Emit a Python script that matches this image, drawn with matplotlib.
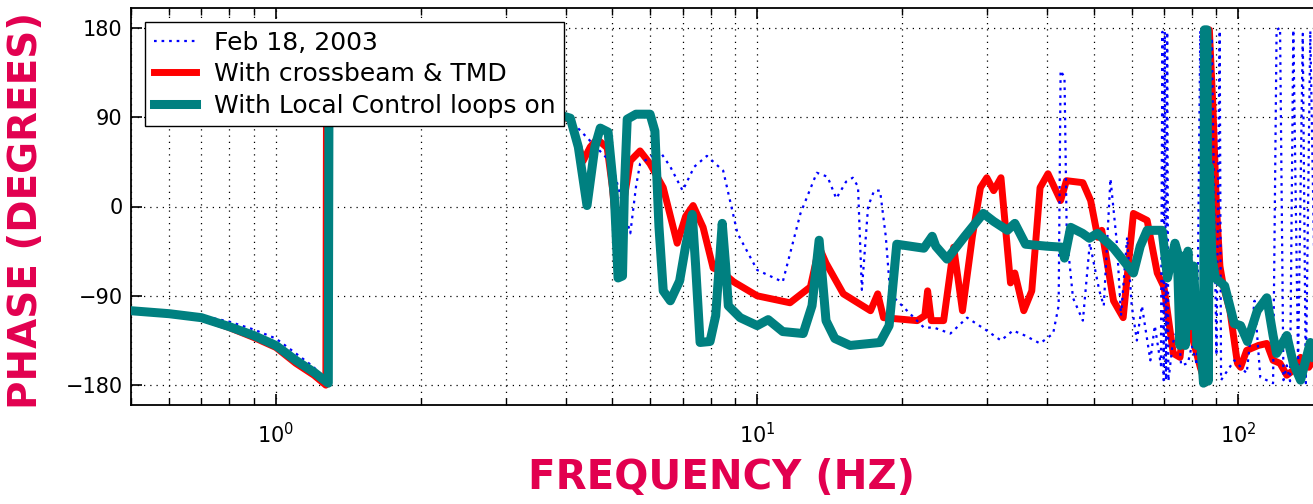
import numpy as np
import matplotlib
matplotlib.use("Agg")
import matplotlib.pyplot as plt
from matplotlib.ticker import LogLocator, NullFormatter, FixedLocator

# phase response (frequency in Hz, phase in degrees)

# Feb 18, 2003 measurement
feb2003 = np.array([
    [0.5, -105], [0.6, -107], [0.7, -110], [0.8, -116], [0.9, -124], [1.0, -133],
    [1.1, -148], [1.2, -162], [1.27, -178], [1.275, 178], [1.35, 110], [1.6, 100],
    [2.0, 97], [2.5, 95], [3.0, 93], [3.5, 92], [3.9, 92], [4.09, 87], [4.5, 66],
    [5.0, 43], [5.2, 10], [5.45, -27], [5.6, 20], [5.71, 43], [6.27, 56], [6.6, 40],
    [7.0, 16], [7.4, 40], [7.86, 51], [8.5, 36], [9.1, -27], [10.0, -64], [11.3, -76],
    [12.3, -7], [13.3, 34], [14.0, 30], [14.6, 8], [15.3, 25], [15.8, 29], [16.2, 20],
    [16.5, -84], [17.0, 0], [17.5, 16], [18.0, 16], [18.5, -30], [18.9, -88],
    [20.1, -101], [22.2, -122], [23.3, -122], [25.2, -128], [27.3, -112], [30.0, -125],
    [32.1, -135], [34.0, -125], [36.0, -130], [38.7, -138], [41.2, -128], [42.3, -100],
    [42.7, 137], [43.5, 130], [44.0, -37], [44.5, -54], [45.3, -92], [47.5, -115],
    [49.1, -37], [51.4, -85], [52.5, -100], [54.2, 28], [55.9, -37], [57.0, -110],
    [58.7, -31], [60.0, -100], [61.5, -135], [63.0, -100], [65.6, -155], [67.0, -120],
    [69.0, -160], [69.5, 176], [69.9, -175], [70.3, 176], [70.7, -175], [71.1, 176],
    [71.5, -176], [73.0, -138], [75.0, -120], [76.0, -160], [78.5, -158], [80.0, -140],
    [82.0, -160], [83.3, 177], [84.5, -172], [86.0, 0], [88.0, 170], [90.0, -150],
    [91.4, 177], [92.0, -175], [98.0, -155], [104.0, -168], [108.0, -95], [111.0, -172],
    [118.0, -178], [120.0, 178], [122.0, 180], [124.0, -175], [126.0, -160],
    [128.0, -176], [130.0, 178], [133.0, -160], [136.0, 174], [138.0, -178],
    [141.0, 177], [145.0, -170], [150.0, 175],
])

# with crossbeam & TMD
crossbeam = np.array([
    [0.5, -105], [0.6, -108], [0.7, -112], [0.8, -122], [0.9, -132], [1.0, -142],
    [1.1, -158], [1.2, -170], [1.27, -180], [1.275, 175], [1.35, 110], [1.6, 100],
    [2.0, 97], [2.5, 95], [3.0, 93], [3.4, 92], [3.5, 86], [3.6, 92], [3.9, 92],
    [4.09, 87], [4.35, 46], [4.5, 60], [4.65, 68], [4.88, 59], [5.0, 20], [5.14, -42],
    [5.3, 10], [5.45, 46], [5.71, 56], [5.99, 43], [6.38, 19], [6.82, -37], [7.1, -10],
    [7.36, 1], [7.72, -21], [8.1, -62], [8.4, -65], [8.94, -76], [10.0, -90],
    [11.7, -97], [12.9, -81], [13.45, -41], [13.9, -57], [15.1, -88], [17.2, -105],
    [17.8, -88], [18.3, -112], [21.5, -115], [22.3, -110], [22.6, -85], [23.0, -115],
    [24.4, -115], [25.6, -41], [26.7, -105], [28.0, -30], [29.1, 19], [30.0, 29],
    [31.0, 16], [32.1, 29], [33.6, -77], [34.3, -67], [35.8, -105], [37.2, -85],
    [38.7, 19], [40.2, 33], [42.7, 6], [43.9, 26], [47.5, 24], [49.3, 6], [51.0, -31],
    [52.0, -24], [55.0, -95], [57.6, -112], [60.5, -7], [64.6, -14], [67.8, -67],
    [70.0, -81], [73.2, -148], [75.6, -152], [77.0, -115], [80.0, -130], [83.3, -162],
    [85.3, -178], [85.6, 178], [87.0, 178], [88.5, 100], [90.0, 0], [91.5, -60],
    [93.0, -80], [96.0, -105], [99.5, -158], [101.0, -162], [104.0, -145],
    [110.0, -140], [114.5, -138], [118.0, -155], [122.0, -158], [126.0, -170],
    [130.0, -165], [134.6, -152], [140.0, -162], [145.0, -150], [150.0, -160],
])

# with local control loops on
local_ctrl = np.array([
    [0.5, -105], [0.6, -108], [0.7, -112], [0.8, -121], [0.9, -130], [1.0, -140],
    [1.1, -155], [1.2, -167], [1.285, -178], [1.29, 170], [1.35, 110], [1.6, 100],
    [2.0, 97], [2.5, 95], [2.9, 92], [3.0, 86], [3.1, 92], [3.5, 94], [3.9, 92],
    [4.09, 89], [4.25, 60], [4.43, 1], [4.6, 60], [4.72, 79], [4.9, 75], [5.05, 10],
    [5.14, -72], [5.25, -70], [5.3, 20], [5.37, 88], [5.6, 93], [5.99, 93], [6.13, 76],
    [6.25, -20], [6.38, -85], [6.6, -95], [6.9, -75], [7.1, -40], [7.33, -8],
    [7.45, -60], [7.61, -137], [7.98, -136], [8.2, -110], [8.46, -17], [8.6, -60],
    [8.71, -100], [9.22, -112], [10.0, -120], [10.54, -114], [11.3, -126],
    [12.46, -128], [13.0, -100], [13.45, -34], [13.9, -115], [14.5, -133],
    [15.6, -140], [18.0, -137], [18.8, -120], [19.5, -38], [22.2, -42], [22.8, -34],
    [23.1, -30], [23.5, -40], [24.8, -53], [27.0, -30], [29.5, -7], [31.0, -15],
    [33.1, -24], [34.3, -17], [36.1, -38], [40.0, -40], [43.0, -41], [43.5, -52],
    [44.8, -21], [47.4, -27], [49.0, -32], [50.9, -27], [55.0, -42], [60.5, -67],
    [62.5, -40], [64.6, -24], [69.4, -24], [71.2, -72], [73.8, -37], [74.6, -45],
    [75.6, -140], [76.5, -50], [77.5, -140], [78.5, -45], [79.5, -120], [80.7, -60],
    [82.0, -140], [83.0, -120], [84.6, -178], [85.0, 178], [86.0, 178], [86.5, -176],
    [87.0, 40], [88.0, -50], [89.5, -72], [93.6, -80], [98.0, -118], [101.0, -120],
    [104.4, -136], [109.4, -105], [114.5, -92], [118.0, -130], [120.0, -148],
    [126.0, -130], [130.0, -158], [134.6, -175], [141.0, -137], [145.0, -160],
    [150.0, -150],
])

labels = ["Feb 18, 2003", "With crossbeam & TMD", "With Local Control loops on"]
y_ticks = [-180, -90, 0, 90, 180]

label_colour = "#E2004F"

fig = plt.figure(figsize=(13.13, 5.04), dpi=100, facecolor="white")
ax = fig.add_axes([131 / 1313, 99 / 504, 1195 / 1313, 397 / 504])

h_red, = ax.plot(crossbeam[:, 0], crossbeam[:, 1], color="#FF0000", lw=5, zorder=3)
h_blue, = ax.plot(feb2003[:, 0], feb2003[:, 1], color="#0000FF", lw=1.6,
                  linestyle=(0, (1.2, 2.2)), zorder=4)
h_teal, = ax.plot(local_ctrl[:, 0], local_ctrl[:, 1], color="#008080", lw=6.5, zorder=5)

ax.set_xscale("log")
ax.set_xlim(0.5, 152)
ax.set_ylim(-200, 200)
ax.yaxis.set_major_locator(FixedLocator(y_ticks))
ax.xaxis.set_minor_locator(LogLocator(base=10, subs=np.arange(2, 10)))
ax.xaxis.set_minor_formatter(NullFormatter())

ax.tick_params(which="both", direction="in", top=True, right=True, labelsize=15,
               colors="black")
ax.tick_params(which="major", length=8, width=1.2)
ax.tick_params(which="minor", length=5, width=1.0)
ax.tick_params(axis="x", pad=12)
ax.tick_params(axis="y", pad=6)

grid_style = dict(color="black", linestyle=(0, (1, 4)), linewidth=0.9)
ax.grid(True, which="major", axis="both", **grid_style)
ax.grid(True, which="minor", axis="x", **grid_style)
ax.set_axisbelow(True)
for s in ax.spines.values():
    s.set_linewidth(1.3)

ax.set_xlabel("FREQUENCY (HZ)", va="center", family="DejaVu Sans", weight="bold",
              size=29, color=label_colour)
ax.xaxis.set_label_coords(0.494, -0.184)
ax.set_ylabel("PHASE (DEGREES)", va="center", family="DejaVu Sans", weight="bold",
              size=28, color=label_colour)
ax.yaxis.set_label_coords(-0.088, 0.49)

leg = ax.legend([h_blue, h_red, h_teal], labels, loc="upper left",
                bbox_to_anchor=(0.0117, 0.965), borderaxespad=0, fontsize=18,
                fancybox=False, framealpha=1, edgecolor="black", handlelength=1.7,
                handletextpad=0.7, labelspacing=0.3, borderpad=0.35)
leg.get_frame().set_linewidth(1.0)
leg.set_zorder(10)

fig.savefig("out.png", dpi=100, facecolor="white")
